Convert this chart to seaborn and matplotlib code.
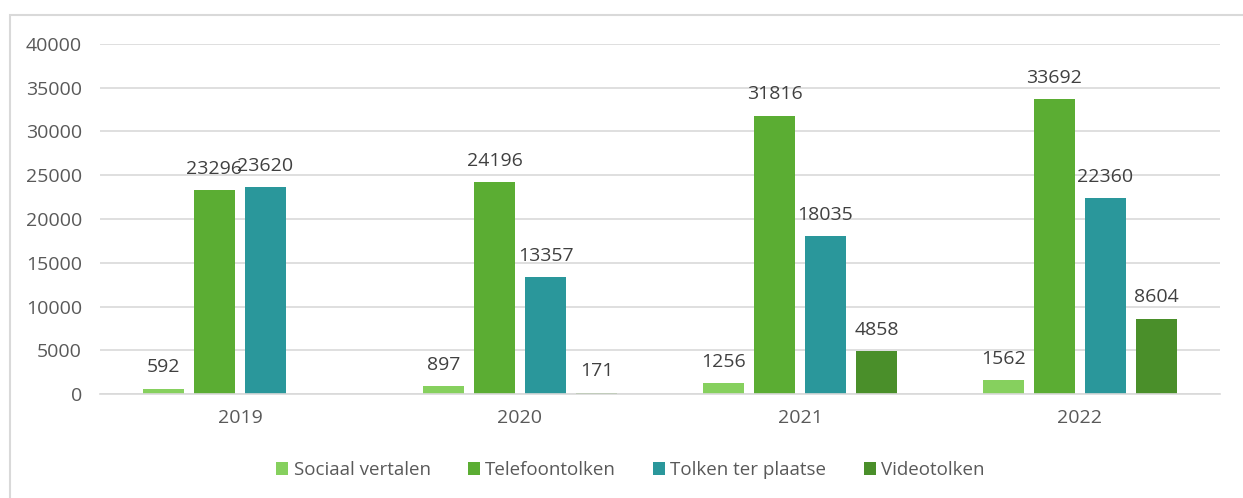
import numpy as np
import pandas as pd
import matplotlib
matplotlib.use("Agg")
import matplotlib.pyplot as plt
import seaborn as sns
from matplotlib.patches import Rectangle

years = ["2019", "2020", "2021", "2022"]
series = ["Sociaal vertalen", "Telefoontolken", "Tolken ter plaatse", "Videotolken"]
sociaal = [592, 897, 1256, 1562]
telefoon = [23296, 24196, 31816, 33692]
plaatse = [23620, 13357, 18035, 22360]
video = [np.nan, 171, 4858, 8604]
colors = ["#86D05E", "#5BAD33", "#2A979B", "#4A8F2A"]

rows = []
for name, vals in zip(series, [sociaal, telefoon, plaatse, video]):
    for y, v in zip(years, vals):
        rows.append({"Jaar": y, "Reeks": name, "Aantal": v})
df = pd.DataFrame(rows)

sns.set_theme(style="white")
plt.rcParams["font.family"] = ["Open Sans", "DejaVu Sans"]

fig = plt.figure(figsize=(12.43, 4.98), dpi=100)
ax = fig.add_axes([100/1243, 104/498, 1120/1243, 350/498])

sns.barplot(data=df, x="Jaar", y="Aantal", hue="Reeks", order=years,
            hue_order=series, palette=colors, width=0.73, gap=0.21,
            saturation=1, ax=ax, legend=True, errorbar=None, linewidth=0)

FS = 14
for cont in ax.containers:
    labels = []
    for bar in cont:
        h = bar.get_height()
        labels.append("" if (h is None or np.isnan(h) or h == 0) else f"{int(round(h))}")
    ax.bar_label(cont, labels=labels, padding=9, fontsize=FS, color="#404040")

ax.set_ylim(0, 40000)
ax.set_xlim(-0.5, 3.5)
ax.set_yticks(np.arange(0, 40001, 5000))
ax.yaxis.grid(True, color="#D9D9D9", linewidth=1.2)
ax.set_axisbelow(True)
for s in ["top", "right", "left"]:
    ax.spines[s].set_visible(False)
ax.spines["bottom"].set_color("#D9D9D9")
ax.spines["bottom"].set_linewidth(1.2)
ax.tick_params(axis="both", length=0, labelsize=FS, labelcolor="#595959")
ax.tick_params(axis="x", pad=11)
ax.tick_params(axis="y", pad=13)
ax.set_xlabel("")
ax.set_ylabel("")

handles, labs = ax.get_legend_handles_labels()
LFS = 13.5
ax.legend(handles, labs, loc="center", bbox_to_anchor=((630.5-100)/1120, (498-470-104)/350),
          ncol=4, frameon=False, fontsize=LFS, labelcolor="#595959",
          handlelength=0.64, handleheight=0.64, handletextpad=0.27, columnspacing=2.0,
          borderpad=0, borderaxespad=0)

fig.patches.append(Rectangle((10/1243, -0.05), 1.2, (498-15)/498 + 0.05,
                             transform=fig.transFigure, fill=False,
                             edgecolor="#D9D9D9", linewidth=1.5))

fig.savefig("out.png", dpi=100)
